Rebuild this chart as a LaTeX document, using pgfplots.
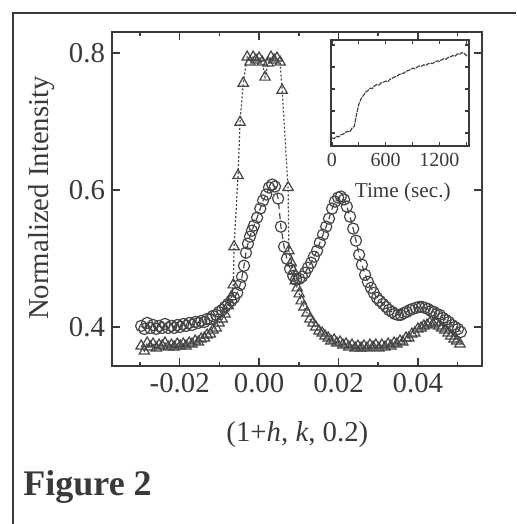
\documentclass[border=0pt]{standalone}
\usepackage{fontspec}
\setmainfont{Liberation Serif}
\usepackage{pgfplots}
\pgfplotsset{compat=1.18}
\definecolor{ink}{RGB}{58,58,58}
\definecolor{pen}{RGB}{70,70,70}

\begin{document}
\begin{tikzpicture}
\useasboundingbox (0,0) rectangle (258pt,-262pt);
\fill[white] (0,0) rectangle (258pt,-262pt);
% frame of the figure box
\draw[ink, line width=0.8pt] (6.5pt,-262pt) -- (6.5pt,-6.5pt) -- (258pt,-6.5pt);

\begin{axis}[
    at={(56pt,-183pt)}, anchor=south west,
    scale only axis, width=185pt, height=167pt,
    xmin=-0.03705, xmax=0.05615,
    ymin=0.343, ymax=0.8307,
    scaled x ticks=false, scaled y ticks=false,
    xtick={-0.02,0,0.02,0.04},
    xticklabels={-0.02,0.00,0.02,0.04},
    minor xtick={-0.03,-0.01,0.01,0.03,0.05},
    ytick={0.4,0.6,0.8},
    yticklabels={0.4,0.6,0.8},
    major tick length=4pt, minor tick length=2pt,
    axis line style={ink, line width=0.8pt},
    every tick/.style={ink, line width=0.8pt},
    tick label style={font=\fontsize{14.4}{16}\selectfont, text=ink},
    label style={font=\fontsize{14.4}{16}\selectfont, text=ink},
    xlabel={(1+\textit{h}, \textit{k}, 0.2)},
    ylabel={Normalized Intensity},
    xlabel style={at={(axis description cs:0.501,-0.2066)}, anchor=center},
    ylabel style={at={(axis description cs:-0.189,0.503)}, anchor=center},
]
% triangles
\addplot[pen, dash pattern=on 1pt off 1pt, line width=0.6pt, mark=triangle, mark size=3pt,
         mark options={solid, line width=0.6pt, fill=none}] coordinates {
(-0.0297,0.3722) (-0.0289,0.3648) (-0.0282,0.3766) (-0.0274,0.3707) (-0.0267,0.3751)
(-0.0259,0.3692) (-0.0252,0.3736) (-0.0244,0.3722) (-0.0237,0.3766) (-0.0229,0.3707)
(-0.0221,0.3736) (-0.0214,0.3707) (-0.0206,0.3751) (-0.0199,0.3722) (-0.0191,0.3751)
(-0.0184,0.3722) (-0.0176,0.3766) (-0.0169,0.3751) (-0.0161,0.3795) (-0.0153,0.3780)
(-0.0146,0.3824) (-0.0138,0.3839) (-0.0131,0.3883) (-0.0123,0.3897) (-0.0116,0.3956)
(-0.0108,0.3985) (-0.0101,0.4059) (-0.0093,0.4117) (-0.0086,0.4190) (-0.0078,0.4308)
(-0.0070,0.4440) (-0.0065,0.4615) (-0.0063,0.5172) (-0.0053,0.6212) (-0.0048,0.6989)
(-0.0040,0.7560) (-0.0030,0.7941) (-0.0023,0.7868) (-0.0015,0.7941) (-0.0008,0.7897)
(0.0000,0.7926) (0.0008,0.7868) (0.0015,0.7648) (0.0023,0.7853) (0.0030,0.7941)
(0.0038,0.7897) (0.0045,0.7926) (0.0053,0.7868) (0.0058,0.7457) (0.0073,0.6036)
(0.0075,0.5113) (0.0081,0.4938) (0.0086,0.4820) (0.0091,0.4674) (0.0096,0.4571)
(0.0101,0.4483) (0.0106,0.4381) (0.0113,0.4293) (0.0121,0.4205) (0.0128,0.4117)
(0.0136,0.4059) (0.0143,0.4000) (0.0151,0.3941) (0.0159,0.3912) (0.0166,0.3868)
(0.0174,0.3839) (0.0181,0.3795) (0.0189,0.3810) (0.0196,0.3766) (0.0204,0.3780)
(0.0211,0.3736) (0.0219,0.3751) (0.0226,0.3707) (0.0234,0.3736) (0.0242,0.3692)
(0.0249,0.3722) (0.0257,0.3692) (0.0264,0.3722) (0.0272,0.3692) (0.0279,0.3736)
(0.0287,0.3707) (0.0294,0.3736) (0.0302,0.3692) (0.0309,0.3736) (0.0317,0.3707)
(0.0325,0.3751) (0.0332,0.3722) (0.0340,0.3766) (0.0347,0.3751) (0.0355,0.3795)
(0.0362,0.3780) (0.0370,0.3839) (0.0377,0.3839) (0.0385,0.3897) (0.0392,0.3912)
(0.0400,0.3971) (0.0408,0.3985) (0.0415,0.4015) (0.0423,0.4029) (0.0430,0.4059)
(0.0438,0.4044) (0.0445,0.4073) (0.0453,0.4015) (0.0460,0.3985) (0.0468,0.3956)
(0.0476,0.3912) (0.0483,0.3868) (0.0491,0.3824) (0.0498,0.3795) (0.0506,0.3751)
};
% circles
\addplot[pen, densely dashed, line width=0.6pt, mark=o, mark size=2.8pt,
         mark options={solid, line width=0.6pt, fill=none}] coordinates {
(-0.0297,0.4015) (-0.0289,0.3971) (-0.0282,0.4059) (-0.0274,0.3985) (-0.0267,0.4029)
(-0.0259,0.3971) (-0.0252,0.4015) (-0.0244,0.3985) (-0.0237,0.4044) (-0.0229,0.3985)
(-0.0221,0.4015) (-0.0214,0.3985) (-0.0206,0.4029) (-0.0199,0.4000) (-0.0191,0.4044)
(-0.0184,0.4015) (-0.0176,0.4059) (-0.0169,0.4029) (-0.0161,0.4073) (-0.0153,0.4059)
(-0.0146,0.4088) (-0.0138,0.4073) (-0.0131,0.4117) (-0.0123,0.4117) (-0.0116,0.4161)
(-0.0108,0.4176) (-0.0101,0.4220) (-0.0093,0.4249) (-0.0086,0.4293) (-0.0078,0.4337)
(-0.0070,0.4381) (-0.0063,0.4425) (-0.0055,0.4498) (-0.0048,0.4615) (-0.0043,0.4733)
(-0.0038,0.4894) (-0.0033,0.5084) (-0.0028,0.5216) (-0.0023,0.5319) (-0.0018,0.5406)
(-0.0013,0.5480) (-0.0005,0.5597) (0.0003,0.5729) (0.0010,0.5846) (0.0018,0.5934)
(0.0025,0.6036) (0.0033,0.6080) (0.0040,0.6051) (0.0048,0.5875) (0.0055,0.5465)
(0.0063,0.5172) (0.0070,0.4996) (0.0078,0.4850) (0.0086,0.4747) (0.0093,0.4689)
(0.0101,0.4703) (0.0108,0.4733) (0.0116,0.4791) (0.0123,0.4864) (0.0131,0.4938)
(0.0138,0.5026) (0.0146,0.5113) (0.0153,0.5231) (0.0161,0.5348) (0.0169,0.5465)
(0.0176,0.5582) (0.0184,0.5729) (0.0191,0.5831) (0.0199,0.5890) (0.0206,0.5905)
(0.0214,0.5861) (0.0221,0.5758) (0.0229,0.5612) (0.0237,0.5436) (0.0244,0.5260)
(0.0252,0.5055) (0.0259,0.4908) (0.0267,0.4762) (0.0274,0.4659) (0.0282,0.4571)
(0.0289,0.4498) (0.0297,0.4425) (0.0304,0.4381) (0.0312,0.4337) (0.0320,0.4293)
(0.0327,0.4249) (0.0335,0.4220) (0.0342,0.4190) (0.0350,0.4176) (0.0357,0.4176)
(0.0365,0.4205) (0.0372,0.4220) (0.0380,0.4249) (0.0387,0.4264) (0.0395,0.4278)
(0.0403,0.4293) (0.0410,0.4293) (0.0418,0.4278) (0.0425,0.4264) (0.0433,0.4234)
(0.0440,0.4220) (0.0447,0.4190) (0.0455,0.4176) (0.0463,0.4132) (0.0470,0.4103)
(0.0478,0.4073) (0.0486,0.4029) (0.0493,0.4000) (0.0501,0.3971) (0.0508,0.3927)
};
\end{axis}

% inset: time dependence
\begin{axis}[
    at={(165.5pt,-73pt)}, anchor=south west,
    scale only axis, width=69pt, height=53pt,
    axis background/.style={fill=white},
    xmin=-10, xmax=1530, ymin=0.41, ymax=5.23,
    xtick={0,300,...,1500}, xticklabels={0,,600,,1200,},
    ytick={1,2,3,4,5}, yticklabels={},
    major tick length=2.2pt,
    axis line style={ink, line width=0.7pt},
    every tick/.style={ink, line width=0.7pt},
    tick label style={font=\fontsize{10}{12}\selectfont, text=ink},
    label style={font=\fontsize{10.6}{12}\selectfont, text=ink},
    xlabel={Time (sec.)},
    xlabel style={at={(axis description cs:0.52,-0.434)}, anchor=center},
]
\addplot[pen, line width=0.6pt, dash pattern=on 2.2pt off 0.5pt] coordinates {
(0,0.78) (25,0.74) (50,0.85) (75,0.82) (100,0.92) (125,0.95) (150,1.02)
(175,1.08) (200,1.05) (225,1.22) (250,1.30) (275,1.85) (300,2.30) (325,2.55)
(350,2.70) (375,2.86) (400,2.92) (425,3.04) (450,3.02) (475,3.14) (500,3.20)
(525,3.18) (550,3.28) (575,3.31) (600,3.36) (625,3.34) (650,3.45) (675,3.50)
(700,3.55) (725,3.58) (750,3.66) (775,3.70) (800,3.72) (825,3.80) (850,3.84)
(875,3.88) (900,3.95) (925,3.92) (950,4.00) (975,4.05) (1000,4.04) (1025,4.10)
(1050,4.08) (1075,4.15) (1100,4.18) (1125,4.16) (1150,4.24) (1175,4.28)
(1200,4.26) (1225,4.33) (1250,4.38) (1275,4.36) (1300,4.44) (1325,4.47)
(1350,4.52) (1375,4.50) (1400,4.60) (1425,4.58) (1450,4.66) (1475,4.62)
(1500,4.52) (1510,4.58)
};
\end{axis}

\node[anchor=base west, inner sep=0pt, text=ink,
      font=\fontsize{18}{20}\selectfont\bfseries] at (11.5pt,-247.5pt) {Figure 2};
\end{tikzpicture}
\end{document}
